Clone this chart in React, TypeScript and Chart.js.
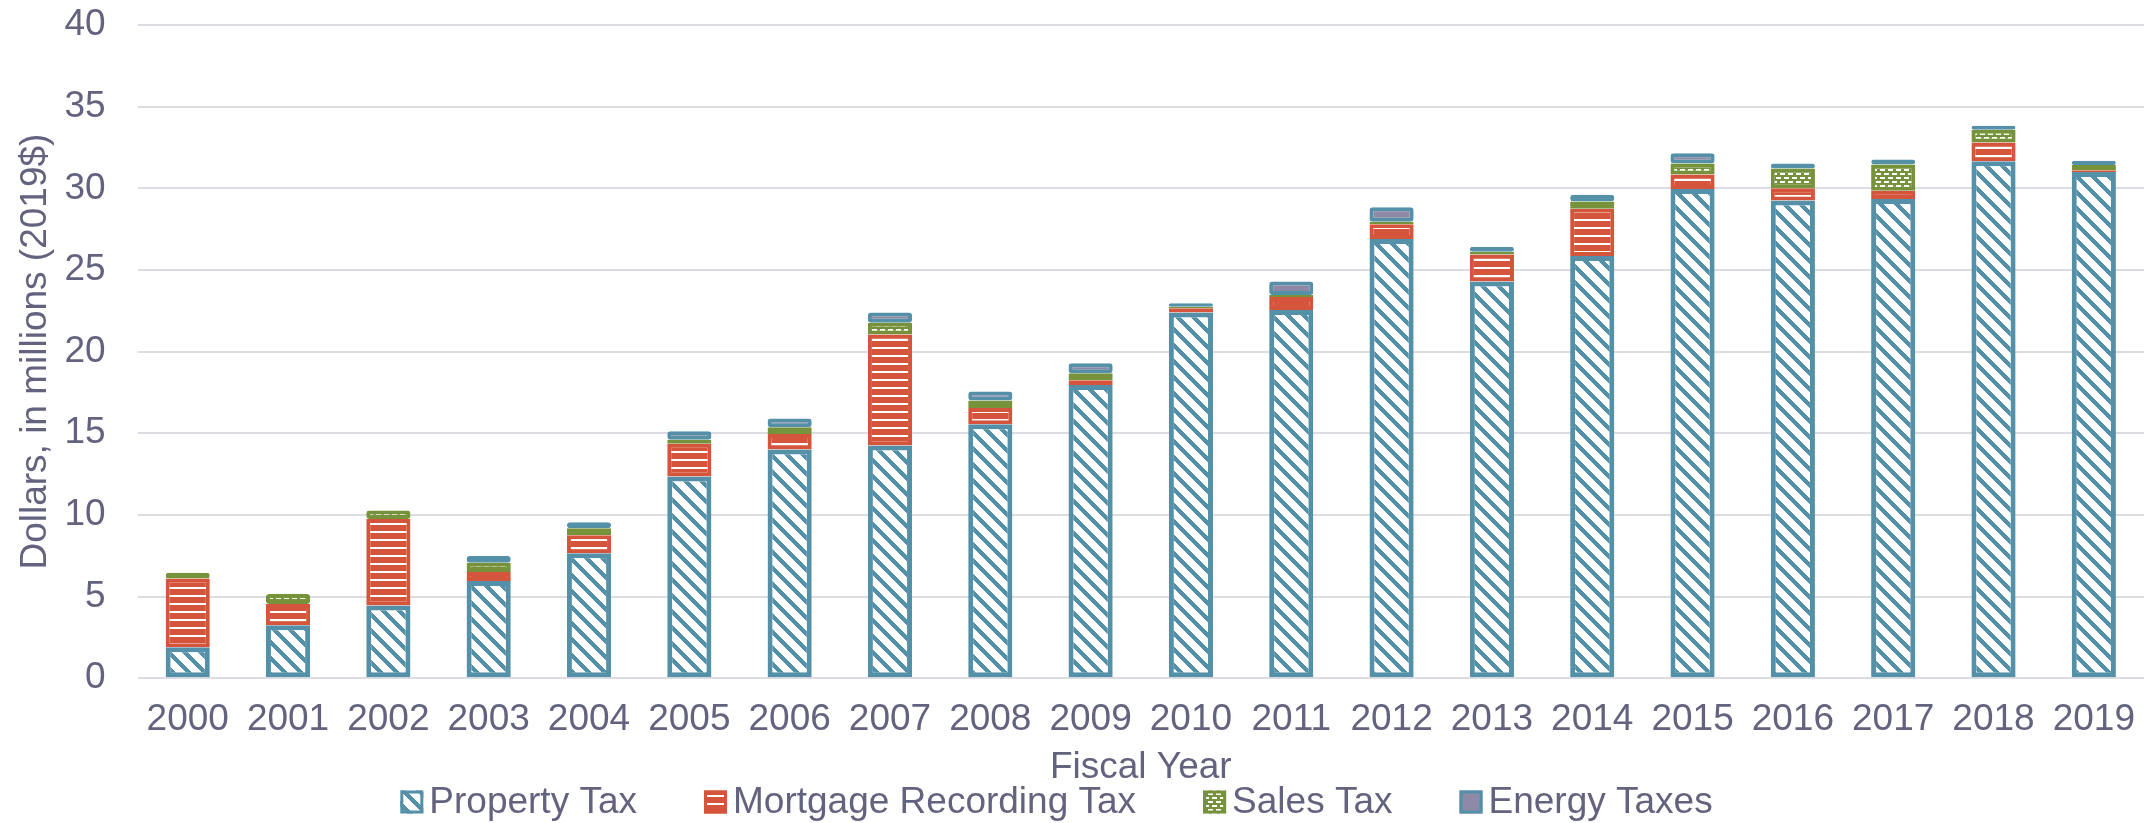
import React, { useEffect, useRef } from 'react';
import { Chart, registerables } from 'chart.js';

Chart.register(...registerables);

const years = ['2000', '2001', '2002', '2003', '2004', '2005', '2006', '2007', '2008', '2009', '2010', '2011', '2012', '2013', '2014', '2015', '2016', '2017', '2018', '2019'];
const propertyTax = [1.9, 3.25, 4.45, 5.95, 7.65, 12.35, 14.0, 14.25, 15.55, 17.95, 22.4, 22.55, 26.9, 24.3, 25.85, 29.95, 29.25, 29.35, 31.65, 31.0];
const mortgageRecordingTax = [4.2, 1.3, 5.3, 0.55, 1.1, 2.0, 0.95, 6.8, 1.0, 0.3, 0.25, 0.8, 0.9, 1.65, 2.9, 0.9, 0.75, 0.5, 1.15, 0.1];
const salesTax = [0.35, 0.6, 0.52, 0.57, 0.43, 0.25, 0.42, 0.71, 0.45, 0.42, 0.1, 0.12, 0.15, 0.16, 0.44, 0.67, 1.21, 1.61, 0.78, 0.32];
const energyTaxes = [0, 0, 0, 0.42, 0.37, 0.52, 0.53, 0.64, 0.55, 0.62, 0.21, 0.83, 0.89, 0.31, 0.41, 0.62, 0.31, 0.3, 0.25, 0.26];
const seriesNames = ['Property Tax', 'Mortgage Recording Tax', 'Sales Tax', 'Energy Taxes'];
const yAxisTitle = 'Dollars, in millions (2019$)';
const xAxisTitle = 'Fiscal Year';

const BLUE = '#5490A8';
const RED = '#D4553B';
const GREEN = '#76923B';
const PURPLE = '#8E89A6';
const TEXT = '#63637F';
const GRID = '#DCDCE3';
const FONT = '"Liberation Sans", Arial, sans-serif';
const FS = 37;

function tile(w: number, h: number, draw: (c: CanvasRenderingContext2D) => void): CanvasPattern {
  const cv = document.createElement('canvas');
  cv.width = w;
  cv.height = h;
  const c = cv.getContext('2d')!;
  draw(c);
  return c.createPattern(cv, 'repeat')!;
}

function makePatterns() {
  const hatch = tile(16, 16, (c) => {
    c.fillStyle = BLUE;
    c.fillRect(0, 0, 16, 16);
    c.fillStyle = '#FFFFFF';
    for (let y = 0; y < 16; y++) {
      for (let x = 0; x < 16; x++) {
        const d = (((x - y) % 16) + 16) % 16;
        if (d < 10) c.fillRect(x, y, 1, 1);
      }
    }
  });
  const lines = tile(8, 8, (c) => {
    c.fillStyle = RED;
    c.fillRect(0, 0, 8, 8);
    c.fillStyle = '#FFFFFF';
    c.fillRect(0, 3, 8, 2);
  });
  const dots = tile(8, 8, (c) => {
    c.fillStyle = GREEN;
    c.fillRect(0, 0, 8, 8);
    c.fillStyle = '#FFFFFF';
    c.fillRect(0, 1, 5, 2);
    c.fillRect(4, 5, 4, 2);
    c.fillRect(0, 5, 1, 2);
  });
  return { hatch, lines, dots };
}

export default function App() {
  const ref = useRef<HTMLCanvasElement>(null);

  useEffect(() => {
    const canvas = ref.current!;
    const { hatch, lines, dots } = makePatterns();
    const fills = [hatch, lines, dots, PURPLE];
    const borders = [BLUE, RED, GREEN, BLUE];
    const widths = [5, 4, 4, 4];

    const legendPlugin = {
      id: 'customLegend',
      afterDraw(chart: any) {
        const ctx = chart.ctx as CanvasRenderingContext2D;
        ctx.save();
        ctx.font = `${FS}px ${FONT}`;
        const box = 23;
        const gapText = 6;
        const gapItem = 67;
        const tw = seriesNames.map((n) => ctx.measureText(n).width);
        const total = tw.reduce((a, w) => a + box + gapText + w, 0) + gapItem * (seriesNames.length - 1);
        let x = (chart.width - total) / 2 - 18;
        const yc = chart.height - 21;
        seriesNames.forEach((name, i) => {
          ctx.fillStyle = fills[i] as any;
          ctx.fillRect(x, yc - box / 2, box, box);
          ctx.strokeStyle = borders[i];
          ctx.lineWidth = 3;
          ctx.strokeRect(x + 1.5, yc - box / 2 + 1.5, box - 3, box - 3);
          ctx.fillStyle = TEXT;
          ctx.textBaseline = 'middle';
          ctx.textAlign = 'left';
          ctx.fillText(name, x + box + gapText, yc + 1);
          x += box + gapText + tw[i] + gapItem;
        });
        ctx.restore();
      },
    };

    const series = [propertyTax, mortgageRecordingTax, salesTax, energyTaxes];
    const chart = new Chart(canvas, {
      type: 'bar',
      data: {
        labels: years,
        datasets: series.map((d, i) => ({
          label: seriesNames[i],
          data: d,
          backgroundColor: fills[i] as any,
          borderColor: borders[i],
          borderWidth: widths[i],
          borderSkipped: false,
          borderRadius: 3,
          barPercentage: 0.44,
          categoryPercentage: 1,
        })),
      },
      options: {
        animation: false,
        responsive: false,
        devicePixelRatio: 1,
        layout: { padding: { top: 25, right: 5, bottom: 33, left: 0 } },
        plugins: {
          legend: { display: false },
          tooltip: { enabled: false },
        },
        scales: {
          x: {
            stacked: true,
            grid: { display: false, drawTicks: true, tickLength: 15, tickColor: 'rgba(0,0,0,0)' },
            border: { display: false },
            ticks: { color: TEXT, font: { size: FS, family: FONT }, padding: 4, maxRotation: 0 },
            title: {
              display: true,
              text: xAxisTitle,
              color: TEXT,
              font: { size: FS, family: FONT },
              padding: { top: 0, bottom: 0 },
            },
          },
          y: {
            stacked: true,
            min: 0,
            max: 40,
            grid: { color: GRID, lineWidth: 2, drawTicks: true, tickLength: 32, tickColor: 'rgba(0,0,0,0)' },
            border: { display: false },
            ticks: { stepSize: 5, color: TEXT, font: { size: FS, family: FONT }, padding: 0 },
            title: {
              display: true,
              text: yAxisTitle,
              color: TEXT,
              font: { size: FS, family: FONT },
              padding: { top: 14, bottom: 6 },
            },
          },
        },
      },
      plugins: [legendPlugin],
    });
    return () => chart.destroy();
  }, []);

  return (
    <div style={{ position: 'fixed', left: 0, top: 0, width: 2149, height: 823, background: '#fff' }}>
      <canvas ref={ref} width={2149} height={823} style={{ display: 'block', width: 2149, height: 823 }} />
    </div>
  );
}
